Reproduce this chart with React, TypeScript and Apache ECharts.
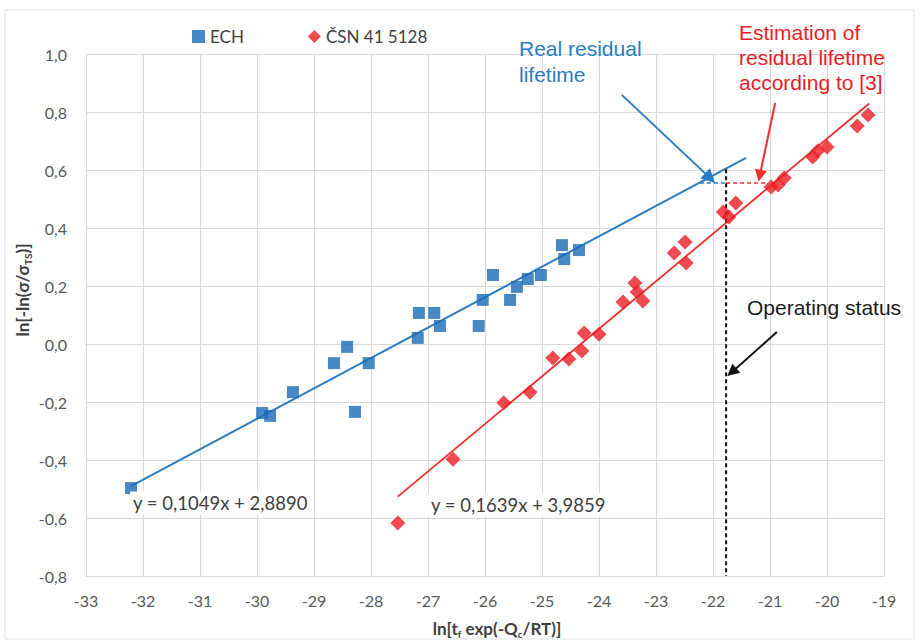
import React, { useEffect, useRef } from "react";
import * as echarts from "echarts";

// ---- data ----
const ECH_X = [-32.21, -29.91, -29.77, -29.37, -28.65, -28.42, -28.28, -28.04, -27.18, -27.16, -26.89, -26.79, -26.11, -26.04, -25.86, -25.56, -25.44, -25.25, -25.02, -24.65, -24.61, -24.35];
const ECH_Y = [-0.497, -0.238, -0.248, -0.166, -0.066, -0.01, -0.234, -0.066, 0.021, 0.107, 0.107, 0.062, 0.062, 0.152, 0.238, 0.152, 0.197, 0.224, 0.238, 0.341, 0.293, 0.324];

const CSN_X = [-27.53, -26.56, -25.67, -25.21, -24.81, -24.53, -24.3, -24.26, -24.0, -23.58, -23.37, -23.33, -23.23, -22.68, -22.49, -22.47, -21.82, -21.72, -21.6, -20.98, -20.86, -20.75, -20.25, -20.16, -20.0, -19.47, -19.28];
const CSN_Y = [-0.617, -0.397, -0.203, -0.166, -0.048, -0.052, -0.024, 0.038, 0.034, 0.145, 0.21, 0.179, 0.148, 0.314, 0.352, 0.279, 0.455, 0.438, 0.486, 0.541, 0.548, 0.572, 0.645, 0.666, 0.679, 0.752, 0.79];

// trendlines: [slope, intercept], x range
const ECH_FIT = [0.1049, 2.889];
const ECH_FIT_RANGE = [-32.21, -21.42];
const CSN_FIT = [0.1639, 3.9859];
const CSN_FIT_RANGE = [-27.53, -19.26];

const SERIES_NAMES = ["ECH", "ČSN 41 5128"];
const EQ_LABELS = ["y = 0,1049x + 2,8890", "y = 0,1639x + 3,9859"];

// annotation coordinates (data units)
const REAL_ARROW = [[-23.6, 0.859], [-22.05, 0.572]];
const EST_ARROW = [[-20.91, 0.831], [-21.18, 0.58]];
const OP_ARROW = [[-20.88, 0.041], [-21.67, -0.097]];
const LEVEL_Y = 0.555;
const REAL_X = -22.23;
const OPER_X = -21.77;
const EST_X = -21.03;
const OPER_TOP = 0.603;

const X_MIN = -33, X_MAX = -19, Y_MIN = -0.8, Y_MAX = 1.0;

const BLUE = "#1a6cb7";
const BLUE_LINE = "#2a7dc5";
const RED = "#ec1c24";
const RED_LINE = "#f03030";
const GRID = "#d9d9d9";
const TXT = "#595959";
const FONT = "Lato, 'Noto Sans', sans-serif";
const ARIAL = "'Liberation Sans', Arial, sans-serif";

function zip(xs: number[], ys: number[]) {
  return xs.map((x, i) => [x, ys[i]]);
}
function fitLine(f: number[], r: number[]) {
  return r.map((x) => [x, f[0] * x + f[1]]);
}

export default function App() {
  const ref = useRef<HTMLDivElement>(null);
  useEffect(() => {
    if (!ref.current) return;
    const chart = echarts.init(ref.current, undefined, { renderer: "svg" });
    const arrowLine = (pts: number[][], color: string, width: number, size: number) => ({
      type: "line",
      data: [],
      silent: true,
      markLine: {
        silent: true,
        animation: false,
        symbol: ["none", "triangle"],
        symbolSize: size,
        label: { show: false },
        lineStyle: { color, width, type: "solid" },
        data: [[{ coord: pts[0] }, { coord: pts[1] }]],
      },
    });
    const dashed = (pts: number[][], color: string, width: number, dash: number[]) => ({
      type: "line",
      data: pts,
      symbol: "none",
      silent: true,
      lineStyle: { color, width, type: dash },
      z: 3,
    });
    const axisNameRich = {
      a: { fontFamily: FONT, fontSize: 17, fontWeight: "bold", fill: "#404040", lineHeight: 22 },
      s: { fontFamily: FONT, fontSize: 10, fontWeight: "bold", fill: "#404040", verticalAlign: "bottom", lineHeight: 22 },
    };
    chart.setOption({
      animation: false,
      backgroundColor: "#ffffff",
      grid: { left: 86, right: 36, top: 54, bottom: 65, containLabel: false },
      legend: {
        data: [
          { name: SERIES_NAMES[0], icon: "rect" },
          { name: SERIES_NAMES[1], icon: "diamond" },
        ],
        left: 187,
        top: 23,
        itemWidth: 13,
        itemHeight: 13,
        itemGap: 64,
        textStyle: { fontFamily: FONT, fontSize: 17, color: "#404040" },
      },
      xAxis: {
        type: "value",
        min: X_MIN,
        max: X_MAX,
        interval: 1,
        axisLine: { show: true, lineStyle: { color: GRID } },
        axisTick: { show: false },
        splitLine: { show: true, lineStyle: { color: GRID, width: 1 } },
        axisLabel: { color: TXT, fontFamily: FONT, fontSize: 16, margin: 16 },
      },
      yAxis: {
        type: "value",
        min: Y_MIN,
        max: Y_MAX,
        interval: 0.2,
        axisLine: { show: true, lineStyle: { color: GRID } },
        axisTick: { show: false },
        splitLine: { show: true, lineStyle: { color: GRID, width: 1 } },
        axisLabel: {
          color: TXT,
          fontFamily: FONT,
          fontSize: 16,
          margin: 19,
          formatter: (v: number) => v.toFixed(1).replace(".", ","),
        },
      },
      series: [
        {
          name: "fitECH",
          type: "line",
          data: fitLine(ECH_FIT, ECH_FIT_RANGE),
          symbol: "none",
          silent: true,
          lineStyle: { color: BLUE_LINE, width: 2 },
          z: 2,
        },
        {
          name: "fitCSN",
          type: "line",
          data: fitLine(CSN_FIT, CSN_FIT_RANGE),
          symbol: "none",
          silent: true,
          lineStyle: { color: RED_LINE, width: 1.8 },
          z: 2,
        },
        {
          name: SERIES_NAMES[0],
          type: "scatter",
          data: zip(ECH_X, ECH_Y),
          symbol: "rect",
          symbolSize: 12,
          itemStyle: { color: BLUE },
          z: 4,
        },
        {
          name: SERIES_NAMES[1],
          type: "scatter",
          data: zip(CSN_X, CSN_Y),
          symbol: "diamond",
          symbolSize: 15,
          itemStyle: { color: RED },
          z: 4,
        },
        dashed([[REAL_X, LEVEL_Y], [OPER_X, LEVEL_Y]], BLUE_LINE, 1.6, [4, 3]),
        dashed([[OPER_X, LEVEL_Y], [EST_X, LEVEL_Y]], RED_LINE, 1.6, [4, 3]),
        dashed([[OPER_X, OPER_TOP], [OPER_X, Y_MIN]], "#111111", 2, [4, 3]),
        arrowLine(REAL_ARROW, BLUE_LINE, 2, 14),
        arrowLine(EST_ARROW, RED_LINE, 2, 12),
        arrowLine(OP_ARROW, "#111111", 2, 12),
      ],
      graphic: [
        {
          type: "rect",
          shape: { x: 5, y: 10, width: 909, height: 629 },
          style: { fill: "none", stroke: "#e3e3e3", lineWidth: 1 },
          silent: true,
          z: -10,
        },
        {
          type: "text",
          x: 22,
          y: 290,
          rotation: Math.PI / 2,
          style: {
            text: "{a|ln[-ln(σ/σ}{s|TS}{a|)]}",
            align: "center",
            verticalAlign: "middle",
            rich: axisNameRich,
          },
        },
        {
          type: "text",
          x: 497,
          y: 628,
          style: {
            text: "{a|ln[t}{s|f}{a| exp(-Q}{s|c}{a|/RT)]}",
            align: "center",
            verticalAlign: "middle",
            rich: axisNameRich,
          },
        },
        {
          type: "text",
          x: 130,
          y: 503,
          z: 10,
          style: {
            text: EQ_LABELS[0],
            fontFamily: FONT,
            fontSize: 18.5,
            fill: "#404040",
            verticalAlign: "middle",
            backgroundColor: "#ffffff",
            padding: [2, 3],
          },
        },
        {
          type: "text",
          x: 428,
          y: 505,
          z: 10,
          style: {
            text: EQ_LABELS[1],
            fontFamily: FONT,
            fontSize: 18.5,
            fill: "#404040",
            verticalAlign: "middle",
            backgroundColor: "#ffffff",
            padding: [2, 3],
          },
        },
        {
          type: "text",
          x: 519,
          y: 61,
          z: 10,
          style: {
            text: "Real residual\nlifetime",
            fontFamily: ARIAL,
            fontSize: 21,
            lineHeight: 26,
            fill: "#2a7dc5",
            verticalAlign: "middle",
          },
        },
        {
          type: "text",
          x: 739,
          y: 57,
          z: 10,
          style: {
            text: "Estimation of\nresidual lifetime\naccording to [3]",
            fontFamily: ARIAL,
            fontSize: 21,
            lineHeight: 25,
            fill: "#ec1c24",
            verticalAlign: "middle",
          },
        },
        {
          type: "text",
          x: 747,
          y: 307,
          z: 10,
          style: {
            text: "Operating status",
            fontFamily: ARIAL,
            fontSize: 21,
            fill: "#1a1a1a",
            verticalAlign: "middle",
          },
        },
      ],
    });
    return () => chart.dispose();
  }, []);
  return (
    <div
      ref={ref}
      style={{ position: "fixed", left: 0, top: 0, width: 920, height: 641, background: "#fff" }}
    />
  );
}
